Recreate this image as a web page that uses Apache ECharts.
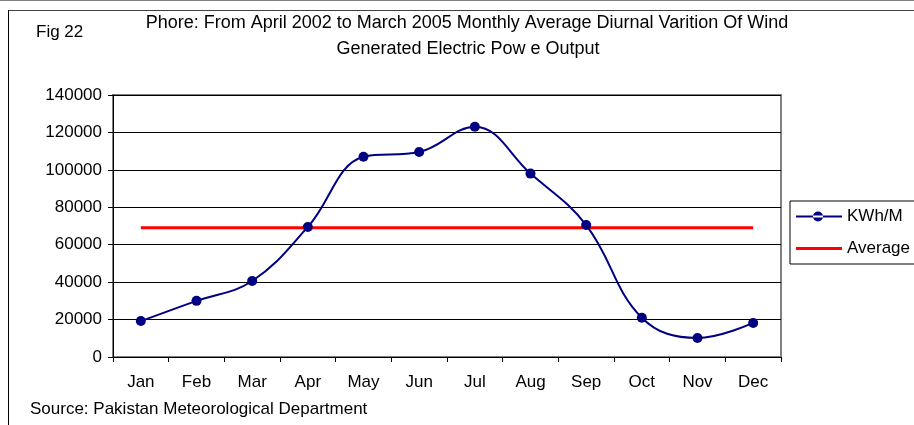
<!DOCTYPE html>
<html>
<head>
<meta charset="utf-8">
<script src="https://cdn.jsdelivr.net/npm/echarts@6/dist/echarts.min.js"></script>
<style>
  html, body { margin: 0; padding: 0; background: #fff; }
  #chart { width: 914px; height: 425px; }
</style>
</head>
<body>
<div id="chart"></div>
<script>
const months = ['Jan', 'Feb', 'Mar', 'Apr', 'May', 'Jun', 'Jul', 'Aug', 'Sep', 'Oct', 'Nov', 'Dec']
const kwhPerMonth = [19200, 30000, 40600, 69500, 107000, 109500, 123000, 98000, 70500, 21000, 10200, 18200]
const averageValue = 69000
const averageLine = months.map(() => averageValue)

const FONT = '"Liberation Sans", Arial, sans-serif'
const FS = 17

const chart = echarts.init(document.getElementById('chart'))
chart.setOption({
  backgroundColor: '#fff',
  animation: false,
  textStyle: { fontFamily: FONT },
  grid: { left: 113, right: 133, top: 95, bottom: 68, show: true, borderColor: '#808080', borderWidth: 2 },
  graphic: [
    { type: 'line', shape: { x1: 8, y1: 10.5, x2: 914, y2: 10.5 }, style: { stroke: '#404040', lineWidth: 1 } },
    { type: 'line', shape: { x1: 0, y1: 0.5, x2: 914, y2: 0.5 }, style: { stroke: '#808080', lineWidth: 1 } },
    { type: 'line', shape: { x1: 8.5, y1: 10, x2: 8.5, y2: 425 }, style: { stroke: '#000', lineWidth: 1 } },
    { type: 'text', style: { text: 'Fig 22', x: 36, y: 32, font: FS + 'px ' + FONT, fill: '#000', textVerticalAlign: 'middle' } },
    { type: 'text', style: { text: 'Phore: From April 2002 to March 2005 Monthly Average Diurnal Varition Of Wind', x: 467, y: 23, font: '18px ' + FONT, fill: '#000', textAlign: 'center', textVerticalAlign: 'middle' } },
    { type: 'text', style: { text: 'Generated Electric Pow e Output', x: 468, y: 49, font: '18px ' + FONT, fill: '#000', textAlign: 'center', textVerticalAlign: 'middle' } },
    { type: 'text', style: { text: 'Source: Pakistan Meteorological Department', x: 30, y: 409, font: FS + 'px ' + FONT, fill: '#000', textVerticalAlign: 'middle' } }
  ],
  legend: {
    orient: 'vertical',
    left: 790,
    top: 201,
    padding: [7, 20, 7, 6],
    itemGap: 15,
    itemWidth: 46,
    itemHeight: 12,
    borderColor: '#000',
    borderWidth: 1,
    borderRadius: 0,
    textStyle: { fontSize: FS, color: '#000', fontFamily: FONT, padding: [0, 0, 0, 0] },
    data: [
      { name: 'KWh/M', icon: 'path://M0,5 L46,5 L46,7 L0,7 Z M17,6 A5,5 0 1,0 27,6 A5,5 0 1,0 17,6 Z' },
      { name: 'Average', icon: 'path://M0,4.5 L46,4.5 L46,7.5 L0,7.5 Z' }
    ]
  },
  xAxis: {
    type: 'category',
    data: months,
    boundaryGap: true,
    axisLine: { lineStyle: { color: '#000', width: 1 } },
    axisTick: { show: true, inside: false, length: 5, lineStyle: { color: '#000' } },
    axisLabel: { fontSize: FS, color: '#000', margin: 17, fontFamily: FONT },
    splitLine: { show: false }
  },
  yAxis: {
    type: 'value',
    min: 0,
    max: 140000,
    interval: 20000,
    axisLine: { show: true, lineStyle: { color: '#000', width: 1 } },
    axisTick: { show: true, length: 5, lineStyle: { color: '#000' } },
    axisLabel: { fontSize: FS, color: '#000', margin: 11, fontFamily: FONT, formatter: v => String(v) },
    splitLine: { show: true, lineStyle: { color: '#000', width: 1 } }
  },
  series: [
    {
      name: 'KWh/M',
      type: 'line',
      data: kwhPerMonth,
      smooth: 0.4,
      symbol: 'circle',
      symbolSize: 10,
      lineStyle: { color: '#000080', width: 2 },
      itemStyle: { color: '#000080' },
      z: 3
    },
    {
      name: 'Average',
      type: 'line',
      data: averageLine,
      symbol: 'none',
      lineStyle: { color: '#ff0000', width: 3 },
      itemStyle: { color: '#ff0000' },
      z: 2
    }
  ]
})
</script>
</body>
</html>
